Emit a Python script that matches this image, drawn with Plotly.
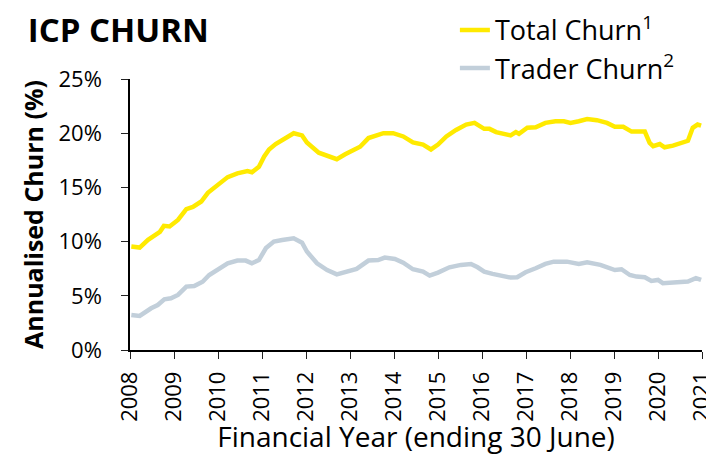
import plotly.graph_objects as go

# decimal financial year positions and annualised churn (%)
total_x = [2008.03, 2008.22, 2008.41, 2008.56, 2008.68, 2008.77, 2008.9, 2009.09, 2009.28, 2009.43,
           2009.62, 2009.77, 2009.99, 2010.22, 2010.44, 2010.67, 2010.77, 2010.93, 2011.05, 2011.16,
           2011.31, 2011.54, 2011.72, 2011.91, 2012.02, 2012.29, 2012.51, 2012.70, 2012.89, 2013.12,
           2013.23, 2013.42, 2013.61, 2013.76, 2013.98, 2014.21, 2014.43, 2014.66, 2014.84, 2015.0,
           2015.19, 2015.41, 2015.64, 2015.83, 2016.05, 2016.17, 2016.32, 2016.5, 2016.65, 2016.77,
           2016.84, 2017.03, 2017.22, 2017.44, 2017.67, 2017.86, 2018.01, 2018.20, 2018.39, 2018.61,
           2018.84, 2019.02, 2019.21, 2019.40, 2019.70, 2019.81, 2019.89, 2020.04, 2020.15, 2020.34,
           2020.53, 2020.68, 2020.79, 2020.90, 2020.98]
total_churn = [9.54, 9.45, 10.16, 10.6, 10.9, 11.45, 11.4, 12.0, 13.0, 13.2,
               13.7, 14.5, 15.2, 15.95, 16.3, 16.5, 16.4, 16.9, 17.85, 18.5,
               19.0, 19.55, 20.0, 19.8, 19.15, 18.2, 17.9, 17.6, 18.05, 18.45,
               18.75, 19.55, 19.75, 20.0, 20.0, 19.7, 19.15, 18.95, 18.5, 18.95,
               19.7, 20.3, 20.8, 20.95, 20.4, 20.4, 20.1, 19.95, 19.8, 20.1,
               19.95, 20.5, 20.55, 20.95, 21.1, 21.1, 20.95, 21.1, 21.3, 21.2,
               20.95, 20.6, 20.6, 20.15, 20.15, 19.1, 18.8, 19.0, 18.7, 18.85,
               19.15, 19.3, 20.5, 20.8, 20.7]

trader_x = [2008.03, 2008.22, 2008.48, 2008.63, 2008.78, 2008.93, 2009.09, 2009.28, 2009.46, 2009.65,
            2009.8, 2009.99, 2010.22, 2010.44, 2010.63, 2010.77, 2010.93, 2011.09, 2011.27, 2011.46,
            2011.72, 2011.91, 2012.02, 2012.25, 2012.48, 2012.70, 2012.93, 2013.15, 2013.42, 2013.64,
            2013.79, 2014.02, 2014.21, 2014.43, 2014.66, 2014.81, 2015.0, 2015.26, 2015.52, 2015.75,
            2015.9, 2016.05, 2016.24, 2016.47, 2016.65, 2016.8, 2016.99, 2017.22, 2017.44, 2017.63,
            2017.82, 2017.93, 2018.20, 2018.39, 2018.69, 2018.87, 2019.02, 2019.17, 2019.36, 2019.51,
            2019.70, 2019.85, 2020.0, 2020.11, 2020.41, 2020.68, 2020.86, 2020.98]
trader_churn = [3.23, 3.14, 3.85, 4.15, 4.68, 4.77, 5.08, 5.85, 5.9, 6.3,
                6.92, 7.38, 8.0, 8.25, 8.25, 8.0, 8.3, 9.4, 10.0, 10.15,
                10.3, 9.9, 9.08, 8.0, 7.38, 6.98, 7.23, 7.48, 8.25, 8.3,
                8.52, 8.4, 8.06, 7.45, 7.23, 6.86, 7.14, 7.63, 7.85, 7.94,
                7.63, 7.23, 7.02, 6.83, 6.68, 6.71, 7.17, 7.54, 7.94, 8.15,
                8.15, 8.15, 7.94, 8.1, 7.85, 7.63, 7.38, 7.45, 6.92, 6.77,
                6.71, 6.37, 6.46, 6.16, 6.23, 6.32, 6.63, 6.46]

years = list(range(2008, 2022))
y_ticks = [0, 5, 10, 15, 20, 25]

FONT = "Open Sans"

fig = go.Figure()
fig.add_trace(go.Scatter(x=total_x, y=total_churn, mode="lines", name="Total Churn<sup>1</sup>",
                         line=dict(color="#FFEA00", width=4.5)))
fig.add_trace(go.Scatter(x=trader_x, y=trader_churn, mode="lines", name="Trader Churn<sup>2</sup>",
                         line=dict(color="#C2CFDA", width=4.5)))

# page body keeps its 8px margin, so the figure is 8px smaller than the window
fig.update_layout(
    width=706, height=447,
    margin=dict(l=122, r=12, t=71, b=105, autoexpand=False),
    paper_bgcolor="white", plot_bgcolor="white",
    font=dict(family=FONT, size=22, color="black"),
    title=dict(text="<b>ICP CHURN</b>", x=0.028, xanchor="left", y=0.95, yanchor="middle",
               font=dict(family=FONT, size=33, color="black")),
    legend=dict(x=0.568, y=1.27, xref="paper", yref="paper", xanchor="left", yanchor="top",
                font=dict(family=FONT, size=27), tracegroupgap=0, bgcolor="rgba(0,0,0,0)"),
    showlegend=True,
)

fig.update_xaxes(range=[2008, 2021], tickvals=years, ticktext=[str(y) for y in years],
                 tickangle=-90, ticks="outside", ticklen=7, tickcolor="#222", showline=True,
                 linecolor="black", linewidth=1.5, showgrid=False, zeroline=False,
                 tickfont=dict(size=22), ticklabelstandoff=4, ticklabeloverflow="allow",
                 title=dict(text="Financial Year (ending 30 June)", font=dict(size=28), standoff=0))
fig.update_yaxes(range=[0, 25], tickvals=y_ticks, ticktext=[f"{v}%" for v in y_ticks],
                 ticks="outside", ticklen=7, tickcolor="#222", showline=True,
                 linecolor="black", linewidth=1.5, showgrid=False, zeroline=False,
                 tickfont=dict(size=22), ticklabelstandoff=15,
                 title=dict(text="<b>Annualised Churn (%)</b>", font=dict(size=25), standoff=8))

fig.write_html("out.html")
